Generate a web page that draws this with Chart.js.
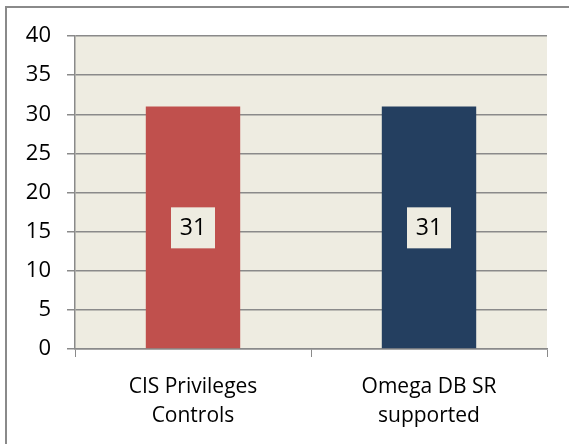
<!DOCTYPE html>
<html lang="en">
<head>
    <meta charset="UTF-8">
    <title>CIS Privileges vs Omega DB</title>
    <script src="https://cdn.jsdelivr.net/npm/chart.js"></script>
    <style>
        * { margin: 0; padding: 0; box-sizing: border-box; }
        body { background: white; width: 569px; height: 444px; overflow: hidden; position: relative; }
        .frame {
            position: absolute;
            left: 5px;
            top: 6px;
            width: 600px;
            height: 480px;
            border-left: 2px solid #8a8a8a;
            border-top: 2px solid #8a8a8a;
        }
        #chart { position: absolute; left: 0; top: 0; }
    </style>
</head>
<body>
<div class="frame"></div>
<canvas id="chart" width="569" height="444"></canvas>

<script>
    // data
    var categories = [["CIS Privileges", "Controls"], ["Omega DB SR", "supported"]];
    var values = [31, 31];
    var barColors = ["#C0504D", "#243F60"];
    var yTicks = [0, 5, 10, 15, 20, 25, 30, 35, 40];

    var FONT = "'Open Sans', sans-serif";

    // beige plot background
    var plotBg = {
        id: "plotBg",
        beforeDraw: function(chart) {
            var a = chart.chartArea, c = chart.ctx;
            c.save();
            c.fillStyle = "#EEECE1";
            c.fillRect(a.left, a.top, a.right - a.left, a.bottom - a.top);
            c.restore();
        }
    };

    // value label box in the middle of each bar
    var valueBoxes = {
        id: "valueBoxes",
        afterDatasetsDraw: function(chart) {
            var c = chart.ctx;
            var meta = chart.getDatasetMeta(0);
            c.save();
            c.font = "23px " + FONT;
            c.textAlign = "center";
            c.textBaseline = "middle";
            meta.data.forEach(function(bar, i) {
                var cx = bar.x;
                var cy = (bar.y + bar.base) / 2;
                c.fillStyle = "#EEECE1";
                c.fillRect(cx - 22, cy - 20, 44, 41);
                c.fillStyle = "#000";
                c.fillText(String(values[i]), cx, cy + 1);
            });
            c.restore();
        }
    };

    new Chart(document.getElementById("chart"), {
        type: "bar",
        data: {
            labels: categories,
            datasets: [{
                data: values,
                backgroundColor: barColors,
                barPercentage: 0.4,
                categoryPercentage: 1.0
            }]
        },
        options: {
            responsive: false,
            animation: false,
            devicePixelRatio: 1,
            layout: { padding: { top: 36, right: 22, left: 0, bottom: 0 } },
            plugins: { legend: { display: false }, tooltip: { enabled: false } },
            scales: {
                x: {
                    offset: true,
                    grid: {
                        offset: true,
                        drawOnChartArea: false,
                        drawTicks: true,
                        tickLength: 8,
                        color: "#8a8a8a",
                        lineWidth: 1
                    },
                    border: { color: "#8a8a8a", width: 1.5 },
                    ticks: {
                        color: "#000",
                        font: { family: FONT, size: 21, lineHeight: 1.36 },
                        padding: 16,
                        maxRotation: 0,
                        autoSkip: false
                    },
                    afterFit: function(s) { s.height = 95; }
                },
                y: {
                    min: 0,
                    max: 40,
                    afterBuildTicks: function(s) {
                        s.ticks = yTicks.map(function(v) { return { value: v }; });
                    },
                    grid: {
                        color: "#8a8a8a",
                        lineWidth: 1.5,
                        tickLength: 8
                    },
                    border: { color: "#8a8a8a", width: 1.5 },
                    ticks: {
                        color: "#000",
                        font: { family: FONT, size: 22 },
                        padding: 16
                    },
                    afterFit: function(s) { s.width = 75; }
                }
            }
        },
        plugins: [plotBg, valueBoxes]
    });
</script>
</body>
</html>
